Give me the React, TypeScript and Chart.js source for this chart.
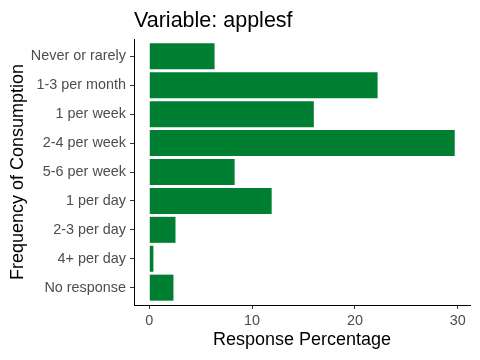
import React, { useEffect, useRef } from "react";
import { Chart, registerables } from "chart.js";

Chart.register(...registerables);

const categories = [
  "Never or rarely",
  "1-3 per month",
  "1 per week",
  "2-4 per week",
  "5-6 per week",
  "1 per day",
  "2-3 per day",
  "4+ per day",
  "No response",
];
const values = [6.35, 22.2, 16.0, 29.7, 8.3, 11.9, 2.55, 0.4, 2.35];
const xTicks = [0, 10, 20, 30];
const titleText = "Variable: applesf";
const xTitle = "Response Percentage";
const yTitle = "Frequency of Consumption";

const FONT = "'Liberation Sans', Arial, sans-serif";

export default function App() {
  const ref = useRef<HTMLCanvasElement>(null);
  useEffect(() => {
    if (!ref.current) return;
    const vmax = Math.max(...values);
    const expand = vmax * 0.05;
    const titlePlugin = {
      id: "ggTitle",
      afterDraw(chart: any) {
        const ctx = chart.ctx;
        ctx.save();
        ctx.font = `21.5px ${FONT}`;
        ctx.fillStyle = "#000";
        ctx.textAlign = "left";
        ctx.textBaseline = "alphabetic";
        ctx.fillText(titleText, chart.chartArea.left, 27);
        ctx.restore();
      },
    };
    const chart = new Chart(ref.current, {
      type: "bar",
      data: {
        datasets: [
          {
            data: values.map((v, i) => ({ x: v, y: i + 1 })),
            backgroundColor: "#007F33",
            borderWidth: 0,
            barPercentage: 0.9,
            categoryPercentage: 1,
          },
        ],
      },
      options: {
        indexAxis: "y",
        animation: false,
        responsive: false,
        layout: { padding: { top: 39, right: 10, bottom: 0, left: 0 } },
        plugins: { legend: { display: false }, tooltip: { enabled: false }, title: { display: false } },
        scales: {
          x: {
            type: "linear",
            min: -expand,
            max: vmax + expand,
            offset: false,
            afterBuildTicks: (s: any) => {
              s.ticks = xTicks.map((v) => ({ value: v }));
            },
            afterFit: (s: any) => {
              s.height = 55;
            },
            grid: { drawOnChartArea: false, drawTicks: true, tickLength: 4, color: "#333333", offset: false },
            border: { display: true, color: "#000", width: 1 },
            ticks: { color: "#4D4D4D", font: { family: FONT, size: 14.4 }, padding: 3, maxRotation: 0 },
            title: {
              display: true,
              text: xTitle,
              color: "#000",
              font: { family: FONT, size: 18 },
              padding: { top: 0, bottom: 9 },
            },
          },
          y: {
            type: "linear",
            min: 0.4,
            max: categories.length + 0.6,
            reverse: true,
            offset: false,
            afterBuildTicks: (s: any) => {
              s.ticks = categories.map((_, i) => ({ value: i + 1 }));
            },
            afterFit: (s: any) => {
              s.width = 134;
            },
            grid: { drawOnChartArea: false, drawTicks: true, tickLength: 4, color: "#333333", offset: false },
            border: { display: true, color: "#000", width: 1 },
            ticks: {
              color: "#4D4D4D",
              font: { family: FONT, size: 14.4 },
              padding: 4,
              autoSkip: false,
              callback: (v: any) => categories[Math.round(v) - 1] ?? "",
            },
            title: {
              display: true,
              text: yTitle,
              color: "#000",
              font: { family: FONT, size: 18 },
              padding: { top: 7, bottom: 0 },
            },
          },
        },
      },
      plugins: [titlePlugin],
    });
    return () => chart.destroy();
  }, []);
  return (
    <div style={{ position: "fixed", left: 0, top: 0, width: 480, height: 360, background: "#fff" }}>
      <canvas ref={ref} width={480} height={360} style={{ display: "block" }} />
    </div>
  );
}
